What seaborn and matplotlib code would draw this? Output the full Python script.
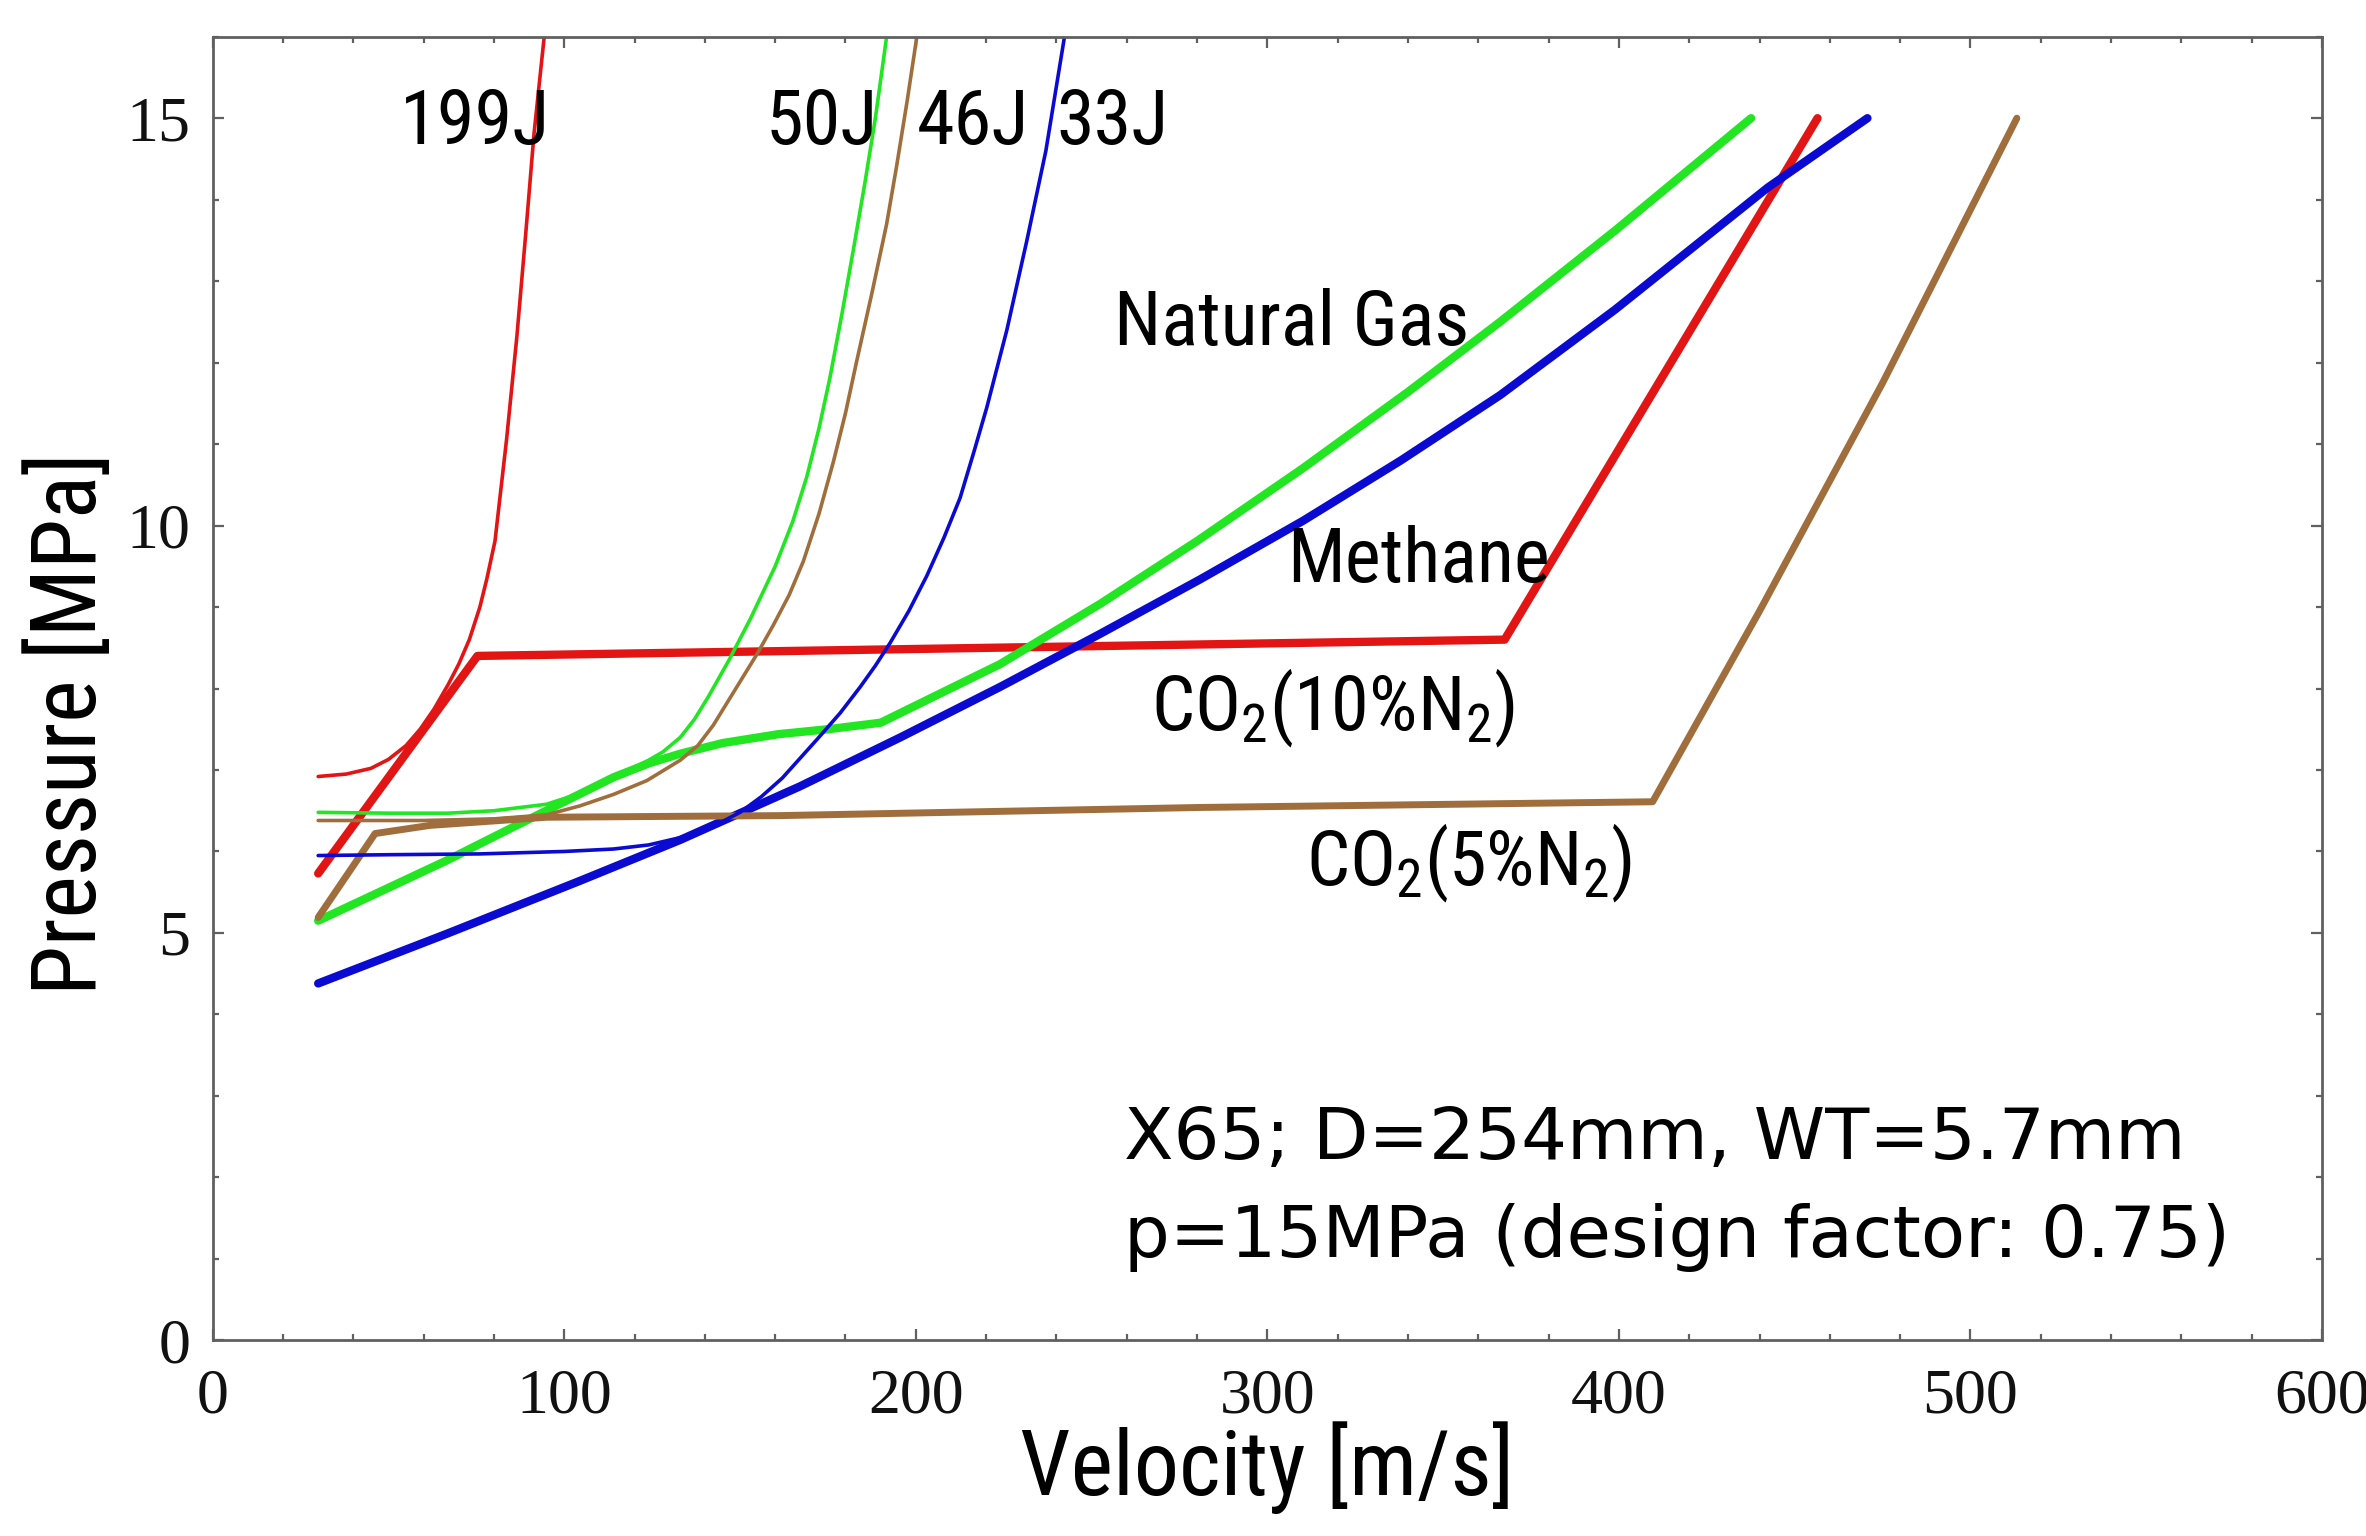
import numpy as np
import pandas as pd
import seaborn as sns
import matplotlib.pyplot as plt
from matplotlib import font_manager
from matplotlib.ticker import MultipleLocator

# thin curves: fracture resistance (Charpy energy)
v_199J = [30, 38, 45, 50, 55, 59, 63, 67, 70, 73, 76, 78, 80.3, 83.6, 86.5, 89, 91.4, 94.3]
p_199J = [6.92, 6.95, 7.02, 7.13, 7.3, 7.5, 7.75, 8.05, 8.3, 8.6, 9.0, 9.35, 9.81, 11.06, 12.31, 13.56, 14.81, 16.0]

v_50J = [30, 50, 67, 80, 95, 105, 114, 124, 128, 133, 137, 141, 147, 153, 160, 165, 169, 172.5,
         175.6, 179, 182.3, 185.5, 188.5, 191.7]
p_50J = [6.48, 6.47, 6.47, 6.5, 6.58, 6.72, 6.91, 7.12, 7.22, 7.40, 7.62, 7.9, 8.36, 8.86, 9.5, 10.05,
         10.6, 11.2, 11.82, 12.6, 13.4, 14.2, 15.0, 16.0]

v_46J = [30, 60, 80, 95, 104.5, 114, 123.5, 133, 138, 142.4, 148.1, 154.8, 159.5, 164, 168, 172.5,
         176.6, 180, 183.2, 187.5, 191.7, 194.5, 197.5, 200.3]
p_46J = [6.38, 6.38, 6.4, 6.45, 6.56, 6.7, 6.87, 7.12, 7.3, 7.55, 7.95, 8.42, 8.78, 9.15, 9.56, 10.15,
         10.79, 11.38, 12.02, 12.85, 13.7, 14.4, 15.2, 16.0]

v_33J = [30, 50, 76, 100, 114, 124, 133, 142, 150, 156, 162, 167, 172, 178.5, 184.2, 188.5, 192.7,
         198, 203.1, 208, 212.6, 216.5, 220.2, 225.9, 231.6, 237, 242.3]
p_33J = [5.95, 5.96, 5.97, 6.0, 6.03, 6.08, 6.17, 6.3, 6.48, 6.67, 6.9, 7.14, 7.38, 7.7, 8.02, 8.28,
         8.56, 8.95, 9.38, 9.85, 10.34, 10.9, 11.45, 12.4, 13.5, 14.6, 16.0]

# thick curves: decompression wave speed
v_methane = [30, 75.3, 367.5, 456.5]
p_methane = [5.73, 8.40, 8.60, 15.0]

v_natgas = [30, 66.6, 85.5, 114, 124, 133, 145, 161, 175, 190, 224, 252.5, 280, 310, 340, 366.2, 398.9, 437.6]
p_natgas = [5.15, 5.89, 6.30, 6.91, 7.08, 7.2, 7.33, 7.44, 7.5, 7.58, 8.3, 9.04, 9.81, 10.70, 11.64, 12.5, 13.62, 15.0]

v_co2_10 = [30, 66.6, 104.5, 132.9, 167.1, 195.6, 224, 252.4, 280.9, 310.2, 338, 366.2, 398.9, 442.4, 470.7]
p_co2_10 = [4.38, 4.99, 5.64, 6.14, 6.80, 7.40, 8.02, 8.67, 9.34, 10.06, 10.8, 11.6, 12.65, 14.15, 15.0]

v_co2_5 = [30, 46.2, 61.8, 95, 161.4, 280.9, 409.6, 440, 475, 513.2]
p_co2_5 = [5.19, 6.22, 6.32, 6.42, 6.44, 6.54, 6.61, 8.95, 11.75, 15.0]

RED = '#e31414'
GREEN = '#22e622'
BLUE = '#0a0ad2'
BROWN = '#a06e3c'

sns.set_style('ticks')
plt.rcParams['text.color'] = 'black'
plt.rcParams['axes.labelcolor'] = 'black'
plt.rcParams['mathtext.default'] = 'regular'

# pick a narrow sans for the labels, if one is installed
ttf = font_manager.fontManager.ttflist
names = {f.name for f in ttf}
narrow_kw, width = {'family': 'DejaVu Sans'}, 1.0
for n, w in [('Liberation Sans Narrow', 0.74), ('Roboto Condensed', 0.8), ('Open Sans Condensed', 0.75)]:
    if n in names:
        narrow_kw, width = {'family': n}, w
        break
else:
    for f in ttf:
        if f.name == 'DejaVu Sans' and f.stretch == 'condensed' and f.style == 'normal':
            narrow_kw, width = {'family': 'DejaVu Sans', 'stretch': 'condensed'}, 0.9
            break

serif = 'Liberation Serif' if 'Liberation Serif' in names else 'DejaVu Serif'

fig = plt.figure(figsize=(11.83, 7.68), dpi=200)
ax = fig.add_axes([0.0899, 0.1274, 0.8915, 0.8487])

thick = [(v_methane, p_methane, RED, 3.0),
         (v_natgas, p_natgas, GREEN, 3.0),
         (v_co2_10, p_co2_10, BLUE, 3.0),
         (v_co2_5, p_co2_5, BROWN, 2.5)]
thin = [(v_199J, p_199J, RED), (v_50J, p_50J, GREEN), (v_46J, p_46J, BROWN), (v_33J, p_33J, BLUE)]

for v, p, c, lw in thick:
    sns.lineplot(x=v, y=p, color=c, linewidth=lw, sort=False, estimator=None, ax=ax)
for v, p, c in thin:
    sns.lineplot(x=v, y=p, color=c, linewidth=1.3, sort=False, estimator=None, ax=ax)

ax.set_xlim(0, 600)
ax.set_ylim(0, 16)
ax.xaxis.set_major_locator(MultipleLocator(100))
ax.xaxis.set_minor_locator(MultipleLocator(20))
ax.yaxis.set_major_locator(MultipleLocator(5))
ax.yaxis.set_minor_locator(MultipleLocator(1))

for s in ax.spines.values():
    s.set_color('#606060')
    s.set_linewidth(1.0)
ax.tick_params(which='both', direction='in', top=True, right=True, color='#606060', width=0.8)
ax.tick_params(which='major', length=4)
ax.tick_params(which='minor', length=2.2)
ax.tick_params(axis='x', labelsize=23, pad=10, labelfontfamily=serif, labelcolor='#111111')
ax.tick_params(axis='y', labelsize=23, pad=8, labelfontfamily=serif, labelcolor='#111111')

lab_size = 26 / width
ax.set_xlabel('Velocity [m/s]', fontsize=lab_size, **narrow_kw)
ax.set_ylabel('Pressure [MPa]', fontsize=lab_size, **narrow_kw)
ax.xaxis.set_label_coords(0.5, -0.062)
ax.yaxis.set_label_coords(-0.047, 0.473)

ann_size = 22 / width
labels = [('199J', 53.3, 14.68), ('50J', 157.2, 14.68), ('46J', 200.4, 14.68), ('33J', 240.0, 14.68),
          ('Natural Gas', 256.4, 12.22), ('Methane', 305.7, 9.31),
          ('CO$_2$(10%N$_2$)', 267.0, 7.50), ('CO$_2$(5%N$_2$)', 311.0, 5.59)]
for txt, x, y in labels:
    ax.text(x, y, txt, fontsize=ann_size, va='baseline', ha='left', color='black', **narrow_kw)

ax.text(259.3, 2.22, 'X65; D=254mm, WT=5.7mm', fontsize=26, family='DejaVu Sans', va='baseline', color='black')
ax.text(259.3, 1.02, 'p=15MPa (design factor: 0.75)', fontsize=26, family='DejaVu Sans', va='baseline', color='black')

fig.savefig('out.png', dpi=200)
